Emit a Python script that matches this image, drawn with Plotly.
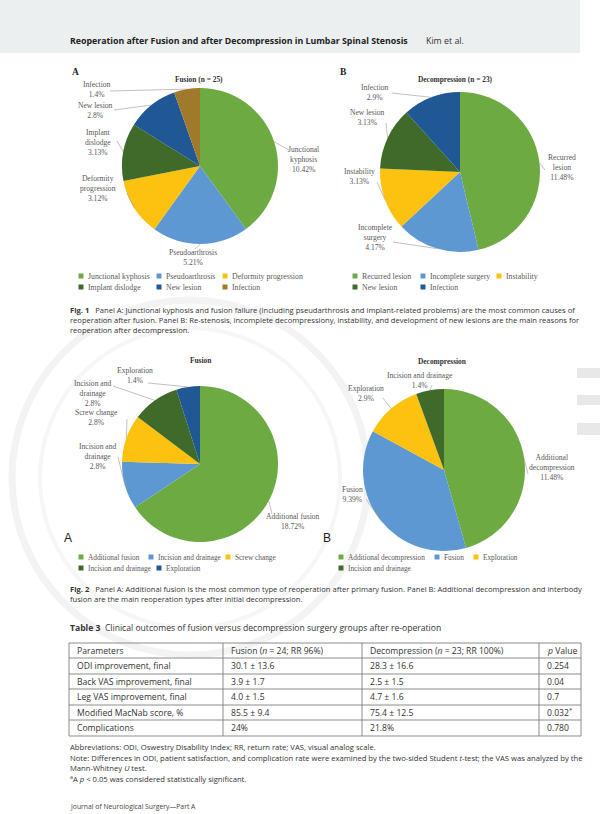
import math
import plotly.graph_objects as go

W, H = 600, 814

# ---------------- DATA ----------------
f1a_names = ["Junctional kyphosis", "Pseudoarthrosis", "Deformity progression",
             "Implant dislodge", "New lesion", "Infection"]
f1a_labels = ["Junctional<br>kyphosis", "Pseudoarthrosis", "Deformity<br>progression",
              "Implant<br>dislodge", "New lesion", "Infection"]
f1a_values = [10.42, 5.21, 3.12, 3.13, 2.8, 1.4]

f1b_names = ["Recurred lesion", "Incomplete surgery", "Instability", "New lesion", "Infection"]
f1b_labels = ["Recurred<br>lesion", "Incomplete<br>surgery", "Instability", "New lesion", "Infection"]
f1b_values = [11.48, 4.17, 3.13, 3.13, 2.9]

f2a_names = ["Additional fusion", "Incision and drainage", "Screw change",
             "Incision and drainage", "Exploration"]
f2a_labels = ["Additional fusion", "Incision and<br>drainage", "Screw change",
              "Incision and<br>drainage", "Exploration"]
f2a_values = [18.72, 2.8, 2.8, 2.8, 1.4]

f2b_names = ["Additional decompression", "Fusion", "Exploration", "Incision and drainage"]
f2b_labels = ["Additional<br>decompression", "Fusion", "Exploration", "Incision and drainage"]
f2b_values = [11.48, 9.39, 2.9, 1.4]

table_header = ["Parameters", "Fusion (<i>n</i> = 24; RR 96%)",
                "Decompression (<i>n</i> = 23; RR 100%)", "<i>p</i> Value"]
t_params = ["ODI improvement, final", "Back VAS improvement, final",
            "Leg VAS improvement, final", "Modified MacNab score, %", "Complications"]
t_fusion = ["30.1 ± 13.6", "3.9 ± 1.7", "4.0 ± 1.5", "85.5 ± 9.4", "24%"]
t_decomp = ["28.3 ± 16.6", "2.5 ± 1.5", "4.7 ± 1.6", "75.4 ± 12.5", "21.8%"]
t_pval = ["0.254", "0.04", "0.7", "0.032<sup>*</sup>", "0.780"]

# ---------------- STYLE ----------------
C_GREEN = "#6EAA42"
C_BLUE = "#5E98D3"
C_YELLOW = "#FDC10F"
C_DGREEN = "#3F6A2A"
C_DBLUE = "#1F5895"
C_BROWN = "#A07A2A"

f1a_colors = [C_GREEN, C_BLUE, C_YELLOW, C_DGREEN, C_DBLUE, C_BROWN]
f1b_colors = [C_GREEN, C_BLUE, C_YELLOW, C_DGREEN, C_DBLUE]
f2a_colors = [C_GREEN, C_BLUE, C_YELLOW, C_DGREEN, C_DBLUE]
f2b_colors = [C_GREEN, C_BLUE, C_YELLOW, C_DGREEN]

SERIF = "Liberation Serif"
SANS = "Open Sans"
LBL = "#595959"
TXT = "#333333"


def px(x):
    return x / W


def py(y):
    return 1 - y / H


fig = go.Figure()
annotations = []
shapes = []


def text(x, y, s, size, family=SANS, color=TXT, xanchor="left", yanchor="middle", align="left"):
    annotations.append(dict(x=px(x), y=py(y), xref="paper", yref="paper", text=s,
                            showarrow=False, xanchor=xanchor, yanchor=yanchor, align=align,
                            font=dict(size=size, family=family, color=color), borderpad=0))


# header bar
shapes.append(dict(type="rect", xref="paper", yref="paper", x0=px(0), x1=px(580), y0=py(53), y1=py(0),
                   fillcolor="#ECEFEF", line=dict(width=0), layer="below"))
text(69, 41.5, "<b>Reoperation after Fusion and after Decompression in Lumbar Spinal Stenosis</b>", 8.8, SANS, "#222222")
text(425, 41.5, "Kim et al.", 8.8, SANS, "#333333")

# faint watermark
shapes.append(dict(type="circle", xref="paper", yref="paper", x0=px(12), x1=px(368), y0=py(655), y1=py(300),
                   line=dict(color="#F3F3F3", width=7), layer="below"))
shapes.append(dict(type="circle", xref="paper", yref="paper", x0=px(40), x1=px(340), y0=py(628), y1=py(328),
                   line=dict(color="#F6F6F6", width=4), layer="below"))
for (y0, y1) in [(368, 378), (395, 405), (423, 435)]:
    shapes.append(dict(type="rect", xref="paper", yref="paper", x0=px(577), x1=px(600), y0=py(y1), y1=py(y0),
                       fillcolor="#E8E8E8", line=dict(width=0), layer="below"))


def add_pie(names, labels, values, colors, cx, cy, r, label_pos, attach):
    # unique labels for the library (duplicate names would be merged)
    uniq = []
    for n in names:
        k = n
        while k in uniq:
            k = k + " "
        uniq.append(k)
    fig.add_trace(go.Pie(labels=uniq, values=values, sort=False, direction="clockwise", rotation=0,
                         textinfo="none", hoverinfo="label+value",
                         marker=dict(colors=colors, line=dict(width=0)), showlegend=False,
                         domain=dict(x=[px(cx - r), px(cx + r)], y=[py(cy + r), py(cy - r)])))
    total = sum(values)
    cum = 0
    for i, v in enumerate(values):
        mid = (cum + v / 2) / total * 2 * math.pi
        cum += v
        ex = cx + r * math.sin(mid)
        ey = cy - r * math.cos(mid)
        ax, ay = attach[i]
        shapes.append(dict(type="line", xref="paper", yref="paper", x0=px(ex), y0=py(ey),
                           x1=px(ax), y1=py(ay), line=dict(color="#A6A6A6", width=0.7)))
        lx, ly = label_pos[i]
        text(lx, ly, f"{labels[i]}<br>{v:g}%", 7.6, SERIF, LBL, xanchor="center", align="center")


def add_legend(names, colors, cols, rows, order, size=7.8):
    for (k, (ri, ci)) in enumerate(order):
        x = cols[ri][ci]
        y = rows[ri]
        shapes.append(dict(type="rect", xref="paper", yref="paper", x0=px(x - 2.5), x1=px(x + 2.5),
                           y0=py(y + 2.5), y1=py(y - 2.5), fillcolor=colors[k], line=dict(width=0)))
        text(x + 6, y, names[k], size, SERIF, LBL)


# ---- Fig 1 A ----
text(75, 72, "<b>A</b>", 9.5, SERIF, "#222222", xanchor="center")
text(199, 79, "<b>Fusion (n = 25)</b>", 7.4, SERIF, "#333333", xanchor="center")
add_pie(f1a_names, f1a_labels, f1a_values, f1a_colors, 200, 166, 78,
        [(303, 159), (193, 257), (98, 189), (98, 142), (95, 111), (97, 89)],
        [(289, 150), (195, 249), (127, 193), (117, 141), (114, 110), (110, 91)])
add_legend(f1a_names, f1a_colors, [[81, 159, 225], [81, 159, 225]], [276, 287],
           [(0, 0), (0, 1), (0, 2), (1, 0), (1, 1), (1, 2)])

# ---- Fig 1 B ----
text(343, 72, "<b>B</b>", 9.5, SERIF, "#222222", xanchor="center")
text(455, 79, "<b>Decompression (n = 23)</b>", 7.4, SERIF, "#333333", xanchor="center")
add_pie(f1b_names, f1b_labels, f1b_values, f1b_colors, 460, 172, 80,
        [(562, 167), (375, 238), (359, 177), (367, 117), (375, 92)],
        [(545, 170), (393, 242), (377, 182), (386, 123), (392, 93)])
add_legend(f1b_names, f1b_colors, [[355, 423, 499], [355, 423]], [276, 287],
           [(0, 0), (0, 1), (0, 2), (1, 0), (1, 1)])

# Fig 1 caption
cap1 = ("<b>Fig. 1</b>   Panel A: Junctional kyphosis and fusion failure (including pseudarthrosis and implant-related problems) are the most common causes of<br>"
        "reoperation after fusion. Panel B: Re-stenosis, incomplete decompressiony, instability, and development of new lesions are the main reasons for<br>"
        "reoperation after decompression.")
text(69, 320, cap1, 7.6, SANS, TXT)

# ---- Fig 2 A ----
text(200, 360, "<b>Fusion</b>", 7.4, SERIF, "#333333", xanchor="center")
add_pie(f2a_names, f2a_labels, f2a_values, f2a_colors, 200, 464, 78,
        [(293, 521), (98, 456), (97, 417), (93, 393), (135, 375)],
        [(272, 514), (118, 457), (127, 419), (113, 386), (148, 383)])
text(68, 538, "A", 12, "Liberation Sans", "#222222", xanchor="center")
add_legend(f2a_names, f2a_colors, [[81, 151, 228], [81, 159]], [557, 568],
           [(0, 0), (0, 1), (0, 2), (1, 0), (1, 1)], size=7.3)

# ---- Fig 2 B ----
text(442, 361, "<b>Decompression</b>", 7.4, SERIF, "#333333", xanchor="center")
add_pie(f2b_names, f2b_labels, f2b_values, f2b_colors, 444, 470, 81,
        [(552, 467), (352, 494), (366, 393), (420, 380)],
        [(528, 474), (366, 499), (383, 398), (432, 385)])
text(327, 538, "B", 12, "Liberation Sans", "#222222", xanchor="center")
add_legend(f2b_names, f2b_colors, [[341, 437, 476], [341]], [557, 568],
           [(0, 0), (0, 1), (0, 2), (1, 0)], size=7.3)

cap2 = ("<b>Fig. 2</b>   Panel A: Additional fusion is the most common type of reoperation after primary fusion. Panel B: Additional decompression and interbody<br>"
        "fusion are the main reoperation types after initial decompression.")
text(69, 593.5, cap2, 7.6, SANS, TXT)

# ---- Table 3 ----
text(69, 628, "<b>Table 3</b>  Clinical outcomes of fusion versus decompression surgery groups after re-operation", 8.6, SANS, TXT)
col_x = [69, 223, 362, 539, 581]
row_y = [643, 658, 674, 689, 705, 720, 736]
for yy in row_y:
    shapes.append(dict(type="line", xref="paper", yref="paper", x0=px(col_x[0]), x1=px(col_x[-1]),
                       y0=py(yy), y1=py(yy), line=dict(color="#7F7F7F", width=0.9)))
for xx in col_x:
    shapes.append(dict(type="line", xref="paper", yref="paper", x0=px(xx), x1=px(xx),
                       y0=py(row_y[0]), y1=py(row_y[-1]), line=dict(color="#7F7F7F", width=0.9)))
for j, h in enumerate(table_header):
    text(col_x[j] + 7, (row_y[0] + row_y[1]) / 2, h, 8.6, SANS, TXT)
for i in range(len(t_params)):
    yc = (row_y[i + 1] + row_y[i + 2]) / 2
    for j, col in enumerate([t_params, t_fusion, t_decomp, t_pval]):
        text(col_x[j] + 7, yc, col[i], 8.6, SANS, TXT)

FN = 7.65
text(69, 747, "Abbreviations: ODI, Oswestry Disability Index; RR, return rate; VAS, visual analog scale.", FN, SANS, TXT)
text(69, 757.5, "Note: Differences in ODI, patient satisfaction, and complication rate were examined by the two-sided Student <i>t</i>-test; the VAS was analyzed by the", FN, SANS, TXT)
text(69, 767.5, "Mann-Whitney <i>U</i> test.", FN, SANS, TXT)
text(69, 778, "<sup>a</sup>A <i>p</i> &lt; 0.05 was considered statistically significant.", FN, SANS, TXT)
text(69, 806, "Journal of Neurological Surgery—Part A", 6.8, SANS, "#444444")

fig.update_layout(width=W, height=H, margin=dict(l=0, r=0, t=0, b=0),
                  paper_bgcolor="white", plot_bgcolor="white",
                  annotations=annotations, shapes=shapes)
fig.write_html("out.html", config={"displayModeBar": False},
               post_script="document.body.style.margin='0px';document.body.style.overflow='hidden';")
